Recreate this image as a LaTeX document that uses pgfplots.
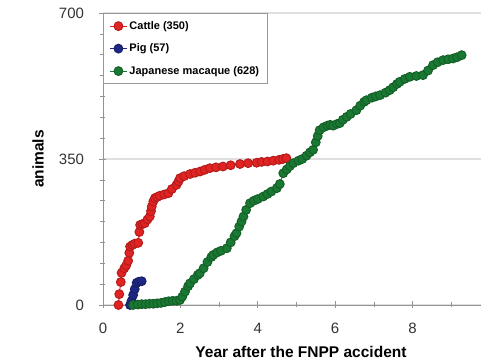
\documentclass[border=0pt]{standalone}
\usepackage{pgfplots}
\pgfplotsset{compat=1.18}
\usepackage{fontspec}
\setmainfont{Liberation Sans}
\definecolor{cattle}{RGB}{225,35,35}
\definecolor{pig}{RGB}{30,40,130}
\definecolor{macaque}{RGB}{25,120,50}
\begin{document}
\begin{tikzpicture}
\begin{axis}[
    scale only axis,
    width=378pt, height=292pt,
    xmin=0, xmax=9.77, ymin=0, ymax=700,
    axis lines=left,
    axis line style={-, draw=gray!85, line width=0.8pt},
    xtick={0,2,4,6,8}, minor xtick={1,3,5,7,9},
    ytick={0,350,700}, minor ytick={50,100,...,650},
    tick align=center, major tick length=7pt, minor tick length=5pt,
    tick style={gray!85, line width=0.6pt},
    ymajorgrids, grid style={gray!25, line width=1.2pt},
    /pgf/number format/assume math mode=true,
    tick label style={font=\fontsize{15}{15}\selectfont, text=black!80},
    xticklabel style={yshift=-11pt},
    yticklabel style={xshift=-12pt},
    xlabel={Year after the FNPP accident},
    ylabel={animals},
    label style={font=\fontsize{15.5}{16}\selectfont\bfseries},
    xlabel style={at={(rel axis cs:0.5,0)}, anchor=center, yshift=-47pt, xshift=9pt},
    ylabel style={at={(rel axis cs:0,0.5)}, anchor=center, yshift=65pt},
    clip=false,
    legend style={at={(0,1)}, anchor=north west, draw=gray!80, line width=0.8pt,
        font=\fontsize{11}{11}\selectfont\bfseries, row sep=9pt,
        inner xsep=6pt, inner ysep=6pt, cells={anchor=west}},
    legend cell align=left,
]
\addplot[cattle, line width=1pt, mark=*, mark size=4.4pt, mark options={fill=cattle, draw=cattle!80!black}] coordinates {
(0.40,0) (0.42,26) (0.46,55) (0.48,77) (0.55,88) (0.60,95) (0.65,106) (0.68,125)
(0.70,140) (0.76,144) (0.82,147) (0.91,149) (0.94,175) (0.96,192) (1.02,194) (1.08,196)
(1.15,205) (1.21,212) (1.24,225) (1.26,236) (1.30,248) (1.34,256) (1.40,259) (1.47,262)
(1.58,265) (1.69,268) (1.78,278) (1.90,288) (1.95,296) (1.99,304) (2.10,309) (2.25,314)
(2.38,317) (2.51,320) (2.63,324) (2.76,328) (2.92,330) (3.10,332) (3.30,335) (3.54,338)
(3.75,340) (3.97,341) (4.10,343) (4.25,344) (4.40,346) (4.55,348) (4.65,350) (4.74,352)
};
\addplot[pig, line width=1pt, mark=*, mark size=4.4pt, mark options={fill=pig, draw=pig!80!black}] coordinates {
(0.70,0) (0.74,10) (0.78,24) (0.82,38) (0.87,53) (0.93,56) (1.00,57)
};
\addplot[macaque, line width=1pt, mark=*, mark size=4.4pt, mark options={fill=macaque, draw=macaque!80!black}] coordinates {
(0.78,0) (0.90,1) (1.00,2) (1.10,2) (1.20,3) (1.30,3) (1.40,4) (1.50,5) (1.60,7)
(1.70,9) (1.80,10) (1.90,10) (1.99,12) (2.05,20) (2.12,32) (2.20,45) (2.25,52)
(2.35,62) (2.45,72) (2.50,76) (2.60,88) (2.70,103) (2.80,115) (2.85,120) (2.95,126)
(3.05,130) (3.20,136) (3.30,150) (3.40,165) (3.45,172) (3.52,188) (3.58,200) (3.63,212)
(3.70,228) (3.80,244) (3.90,250) (4.00,254) (4.14,260) (4.25,266) (4.35,272) (4.49,280)
(4.57,290) (4.66,316) (4.75,325) (4.83,333) (4.92,340) (5.05,346) (5.15,350) (5.26,358)
(5.35,366) (5.43,372) (5.50,390) (5.55,405) (5.60,419) (5.70,426) (5.80,430) (5.87,432)
(5.95,430) (6.05,434) (6.12,436) (6.20,444) (6.30,451) (6.40,458) (6.55,467) (6.65,478)
(6.75,487) (6.81,491) (6.95,497) (7.05,500) (7.16,503) (7.30,509) (7.41,515) (7.50,522)
(7.60,530) (7.67,535) (7.80,542) (7.93,547) (8.10,549) (8.27,551) (8.40,562) (8.53,575)
(8.65,582) (8.79,587) (8.92,589) (9.05,591) (9.15,594) (9.27,599)
};
\legend{Cattle (350), Pig (57), Japanese macaque (628)}
\end{axis}
\pgfresetboundingbox
\path[use as bounding box] (-103pt,-58pt) rectangle (378pt,305pt);
\end{tikzpicture}
\end{document}
